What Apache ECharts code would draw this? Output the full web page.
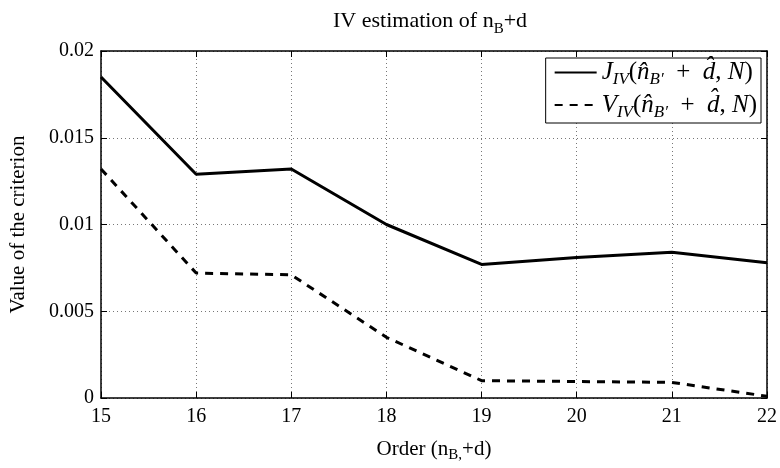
<!DOCTYPE html>
<html>
<head>
<meta charset="utf-8">
<script src="https://cdn.jsdelivr.net/npm/echarts@6/dist/echarts.min.js"></script>
<style>
  html, body { margin: 0; padding: 0; background: #fff; }
  #main { width: 780px; height: 468px; }
</style>
</head>
<body>
<div id="main"></div>
<script>
// 阶数 (n_B' + d)
var orders = [15, 16, 17, 18, 19, 20, 21, 22];
// J_IV 判据
var jValues = [0.0185, 0.0129, 0.0132, 0.0100, 0.0077, 0.0081, 0.0084, 0.0078];
// V_IV 判据
var vValues = [0.0132, 0.0072, 0.0071, 0.0035, 0.0010, 0.00095, 0.0009, 0.0001];
var yTicks = [0, 0.005, 0.01, 0.015, 0.02];

var FONT = 'Liberation Serif';

function pairs(ys) {
  return orders.map(function (x, i) { return [x, ys[i]]; });
}

var mathRich = {
  m: { fontFamily: FONT, fontSize: 25, fontStyle: 'italic', color: '#000', lineHeight: 32 },
  r: { fontFamily: FONT, fontSize: 25, color: '#000', lineHeight: 32 },
  s: { fontFamily: FONT, fontSize: 17, fontStyle: 'italic', color: '#000', lineHeight: 16, verticalAlign: 'bottom' }
};

var legendText = {
  J: '{m|J}{s|IV}{r|(}{m|n\u0302}{s|B\u2032}{r|  +  }{m|d\u0302}{r|, }{m|N}{r|)}',
  V: '{m|V}{s|IV}{r|(}{m|n\u0302}{s|B\u2032}{r|  +  }{m|d\u0302}{r|, }{m|N}{r|)}'
};

var myChart = echarts.init(document.getElementById('main'));

var tickStyle = { show: true, inside: true, length: 6, lineStyle: { color: '#000', width: 1 } };
var axisLine = { show: true, onZero: false, lineStyle: { color: '#000', width: 1.5 } };
var gridLine = { show: true, lineStyle: { color: '#777', width: 1, type: [1, 3] } };
var labelStyle = { fontFamily: FONT, fontSize: 20, color: '#000' };

var option = {
  backgroundColor: '#fff',
  animation: false,
  title: {
    text: '{r|IV estimation of n}{s|B}{r|+d}',
    left: 328,
    top: 0,
    textStyle: {
      fontWeight: 'normal',
      rich: {
        r: { fontFamily: FONT, fontSize: 22, color: '#000', lineHeight: 32 },
        s: { fontFamily: FONT, fontSize: 15, color: '#000', lineHeight: 12, verticalAlign: 'bottom' }
      }
    }
  },
  grid: { left: 97, right: 12, top: 51, bottom: 64 },
  legend: {
    orient: 'vertical',
    right: 19,
    top: 58,
    padding: [2, 4, 2, 8],
    itemGap: 4,
    itemWidth: 42,
    itemHeight: 14,
    borderColor: '#000',
    borderWidth: 1,
    backgroundColor: '#fff',
    data: ['J', 'V'],
    itemStyle: { opacity: 0 },
    formatter: function (name) { return legendText[name]; },
    textStyle: { rich: mathRich }
  },
  xAxis: [{
    type: 'value',
    min: 15, max: 22, interval: 1,
    name: '{r|Order (n}{s|B,}{r|+d)}',
    nameLocation: 'middle',
    nameGap: 37,
    nameTextStyle: {
      rich: {
        r: { fontFamily: FONT, fontSize: 21, color: '#000', lineHeight: 28 },
        s: { fontFamily: FONT, fontSize: 15, color: '#000', lineHeight: 12, verticalAlign: 'bottom' }
      }
    },
    axisLine: axisLine,
    axisTick: tickStyle,
    axisLabel: Object.assign({ margin: 9 }, labelStyle),
    splitLine: gridLine
  }, {
    type: 'value', position: 'top',
    min: 15, max: 22, interval: 1,
    axisLine: axisLine,
    axisTick: tickStyle,
    axisLabel: { show: false },
    splitLine: { show: false }
  }],
  yAxis: [{
    type: 'value',
    min: 0, max: 0.02, interval: 0.005,
    name: 'Value of the criterion',
    nameLocation: 'middle',
    nameGap: 72,
    nameTextStyle: { fontFamily: FONT, fontSize: 21, color: '#000' },
    axisLine: axisLine,
    axisTick: tickStyle,
    axisLabel: Object.assign({
      margin: 7,
      formatter: function (v) {
        var hit = yTicks.filter(function (t) { return Math.abs(t - v) < 1e-9; })[0];
        return String(hit !== undefined ? hit : v);
      }
    }, labelStyle),
    splitLine: gridLine
  }, {
    type: 'value', position: 'right',
    min: 0, max: 0.02, interval: 0.005,
    axisLine: axisLine,
    axisTick: tickStyle,
    axisLabel: { show: false },
    splitLine: { show: false }
  }],
  series: [{
    name: 'J',
    type: 'line',
    data: pairs(jValues),
    symbol: 'none',
    lineStyle: { color: '#000', width: 3 },
    itemStyle: { color: '#000' }
  }, {
    name: 'V',
    type: 'line',
    data: pairs(vValues),
    symbol: 'none',
    lineStyle: { color: '#000', width: 3, type: [8, 7] },
    itemStyle: { color: '#000' }
  }]
};

myChart.setOption(option);
</script>
</body>
</html>
